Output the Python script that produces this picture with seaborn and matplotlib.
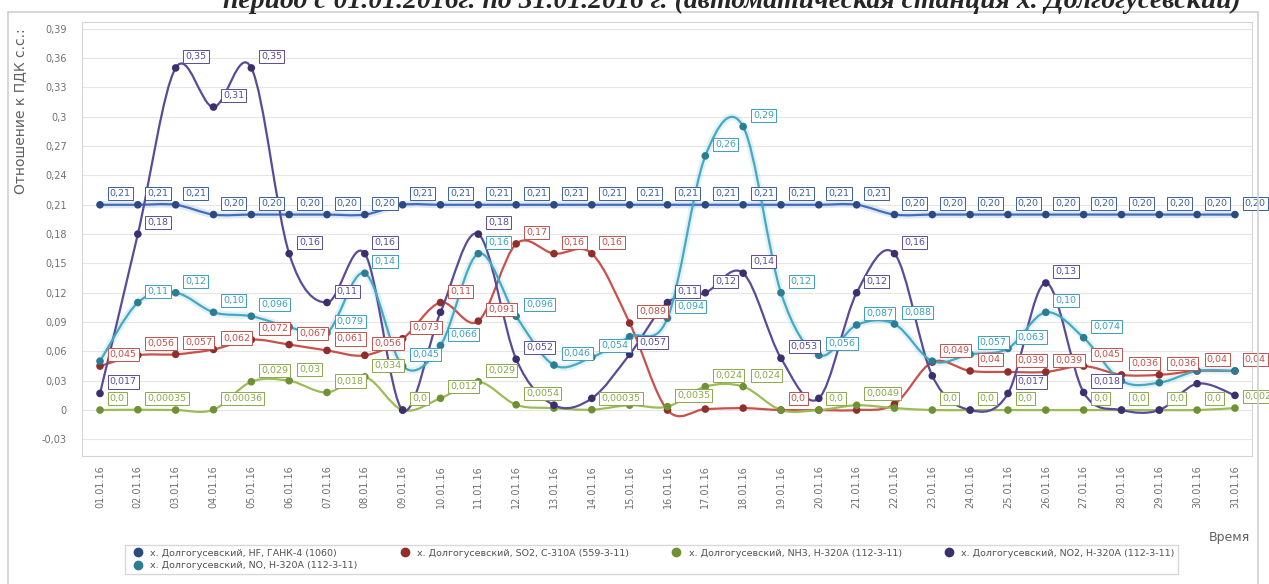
import numpy as np
import pandas as pd
import seaborn as sns
import matplotlib.pyplot as plt
from matplotlib.path import Path
from matplotlib.patches import PathPatch, Rectangle
from matplotlib.lines import Line2D
from matplotlib.ticker import FuncFormatter, MultipleLocator

# dates on the x axis
dates = [f"{d:02d}.01.16" for d in range(1, 32)]

# values (ratio to MPC)
hf = [0.21, 0.21, 0.21, 0.20, 0.20, 0.20, 0.20, 0.20, 0.21, 0.21, 0.21, 0.21, 0.21, 0.21, 0.21, 0.21,
      0.21, 0.21, 0.21, 0.21, 0.21, 0.20, 0.20, 0.20, 0.20, 0.20, 0.20, 0.20, 0.20, 0.20, 0.20]
so2 = [0.045, 0.056, 0.057, 0.062, 0.072, 0.067, 0.061, 0.056, 0.073, 0.11, 0.091, 0.17, 0.16, 0.16, 0.089, 0.0,
       0.001, 0.002, 0.0, 0.0, 0.0, 0.006, 0.049, 0.040, 0.039, 0.039, 0.045, 0.036, 0.036, 0.040, 0.040]
nh3 = [0.0, 0.00035, 0.0, 0.00036, 0.029, 0.030, 0.018, 0.034, 0.0, 0.012, 0.029, 0.0054, 0.002, 0.00035, 0.005, 0.0035,
       0.024, 0.024, 0.0, 0.0, 0.0049, 0.002, 0.0, 0.0, 0.0, 0.0, 0.0, 0.0, 0.0, 0.0, 0.002]
no2 = [0.017, 0.18, 0.35, 0.31, 0.35, 0.16, 0.11, 0.16, 0.0, 0.10, 0.18, 0.052, 0.005, 0.012, 0.057, 0.11,
       0.12, 0.14, 0.053, 0.012, 0.12, 0.16, 0.035, 0.0, 0.017, 0.13, 0.018, 0.0, 0.0, 0.027, 0.015]
no = [0.05, 0.11, 0.12, 0.10, 0.096, 0.085, 0.079, 0.14, 0.045, 0.066, 0.16, 0.096, 0.046, 0.054, 0.075, 0.094,
      0.26, 0.29, 0.12, 0.056, 0.087, 0.088, 0.05, 0.057, 0.063, 0.10, 0.074, 0.03, 0.028, 0.04, 0.04]

names = {
    "hf": "х. Долгогусевский, HF, ГАНК-4 (1060)",
    "so2": "х. Долгогусевский, SO2, С-310А (559-3-11)",
    "nh3": "х. Долгогусевский, NH3, Н-320А (112-3-11)",
    "no2": "х. Долгогусевский, NO2, Н-320А (112-3-11)",
    "no": "х. Долгогусевский, NO, Н-320А (112-3-11)",
}
series = {"hf": hf, "so2": so2, "nh3": nh3, "no2": no2, "no": no}

# days (1-based) whose value boxes are hidden in the original
hidden = {
    "hf": [],
    "so2": [16, 17, 18, 20, 21, 22],
    "nh3": [3, 13, 15, 19, 22, 26],
    "no2": [9, 10, 13, 14, 20, 23, 24, 28, 29, 30, 31],
    "no": [1, 6, 15, 23, 28, 29, 30, 31],
}

line_colors = {"hf": "#3f6fbf", "so2": "#c9504b", "nh3": "#9cbd55", "no2": "#5a4b98", "no": "#45a9c4"}
dot_colors = {"hf": "#2c4a80", "so2": "#8e2f2c", "nh3": "#6f9136", "no2": "#3b2f6e", "no": "#2c7d92"}
label_colors = {"hf": "#3a5f9c", "so2": "#c0504d", "nh3": "#8aa84a", "no2": "#5a4b98", "no": "#3b9fbb"}

title = "период с 01.01.2016г. по 31.01.2016 г. (автоматическая станция х. Долгогусевский)"

df = pd.DataFrame(
    [(i, names[k], v) for k, vals in series.items() for i, v in enumerate(vals)],
    columns=["x", "series", "value"],
)


def smooth_path(xs, ys):
    # catmull-rom curve drawn as bezier segments
    pts = np.column_stack([xs, ys]).astype(float)
    n = len(pts)
    verts, codes = [pts[0]], [Path.MOVETO]
    for i in range(n - 1):
        p0, p1 = pts[max(i - 1, 0)], pts[i]
        p2, p3 = pts[i + 1], pts[min(i + 2, n - 1)]
        verts += [p1 + (p2 - p0) / 6, p2 - (p3 - p1) / 6, p2]
        codes += [Path.CURVE4] * 3
    return Path(verts, codes)


def fmt_val(v):
    if v == 0:
        s = "0,0"
    elif v >= 0.1:
        s = f"{v:.2f}"
    else:
        s = f"{v:.2g}"
    return s.replace(".", ",")


sns.set_style("white")
plt.rcParams["font.family"] = ["DejaVu Sans"]

fig = plt.figure(figsize=(12.69, 5.84), dpi=100)
ax = fig.add_axes([82 / 1269, 1 - 456 / 584, (1252 - 82) / 1269, (456 - 22) / 584])

x = np.arange(len(dates))
for k, vals in series.items():
    if k in ("hf", "no"):
        ax.add_patch(PathPatch(smooth_path(x, vals), fc="none", ec=line_colors[k], lw=5, alpha=0.15, zorder=2))
    ax.add_patch(PathPatch(smooth_path(x, vals), fc="none", ec=line_colors[k], lw=1.6, zorder=3))

sns.scatterplot(data=df, x="x", y="value", hue="series", palette={names[k]: dot_colors[k] for k in names},
                s=30, edgecolor="none", legend=False, ax=ax, zorder=4)

for k, vals in series.items():
    for i, v in enumerate(vals):
        if i + 1 in hidden[k]:
            continue
        ax.annotate(fmt_val(v), (i, v), xytext=(7, 5), textcoords="offset points",
                    fontsize=6.8, color=label_colors[k], ha="left", va="bottom", zorder=6,
                    bbox=dict(boxstyle="square,pad=0.22", fc="white", ec=label_colors[k], lw=0.7))

ax.set_xlim(-0.476, 30.45)
ax.set_ylim(-0.047, 0.397)
ax.set_xticks(x)
ax.set_xticklabels(dates, rotation=90, fontsize=7, color="#707070")
ax.yaxis.set_major_locator(MultipleLocator(0.03))
ax.yaxis.set_major_formatter(FuncFormatter(
    lambda v, p: "0" if abs(v) < 1e-9 else f"{v:.2f}".rstrip("0").rstrip(".").replace(".", ",")))
ax.tick_params(axis="y", labelsize=7, labelcolor="#707070", length=3, color="#c8c8c8", pad=8)
ax.tick_params(axis="x", length=3, color="#c8c8c8")
ax.grid(axis="y", color="#e6e6e6", lw=0.8)
ax.set_axisbelow(True)
for sp in ax.spines.values():
    sp.set_color("#d4d4d4")
ax.set_xlabel("")
ax.set_ylabel("")

fig.text(20 / 1269, 1 - 28 / 584, "Отношение к ПДК с.с.:", rotation=90, ha="center", va="top",
         fontsize=10, color="#606060")
fig.text(1250 / 1269, 1 - 538 / 584, "Время", ha="right", va="center", fontsize=9, color="#606060")
fig.text(732 / 1269, 1 - 8 / 584, title, ha="center", va="baseline", fontsize=20,
         fontweight="bold", fontstyle="italic", family="Liberation Serif")

fig.patches.append(Rectangle((8 / 1269, -0.01), (1258 - 8) / 1269, 1 - 12 / 584 + 0.01,
                             transform=fig.transFigure, fc="none", ec="#cfcfcf", lw=1.2))

order = ["hf", "no", "so2", "nh3", "no2"]
handles = [Line2D([], [], marker="o", ls="none", color=dot_colors[k], markersize=6) for k in order]
fig.legend(handles, [names[k] for k in order], ncol=4, loc="upper left",
           bbox_to_anchor=(120 / 1269, 1 - 540 / 584), fontsize=6.8, frameon=True, fancybox=False,
           edgecolor="#cfcfcf", handletextpad=0.3, columnspacing=4.0, labelspacing=0.4,
           borderpad=0.4, labelcolor="#505050")

fig.savefig("out.png", dpi=100)
